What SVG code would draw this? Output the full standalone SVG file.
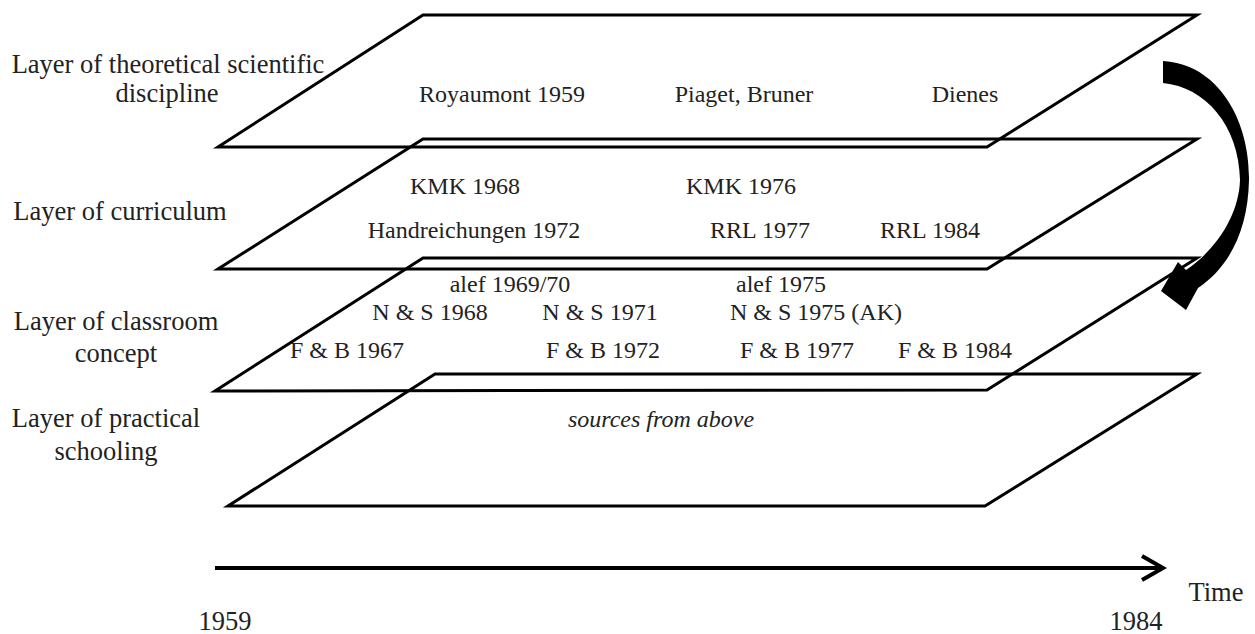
<svg xmlns="http://www.w3.org/2000/svg" width="1255" height="634" viewBox="0 0 1255 634">
<style>
.layer{fill:none;stroke:#000;stroke-width:3;stroke-linejoin:miter}
.lbl{font-family:"Liberation Serif","Times New Roman",serif;font-size:26.5px;fill:#222;text-anchor:middle}
.t{font-family:"Liberation Serif","Times New Roman",serif;font-size:24px;fill:#222;text-anchor:middle}
.it{font-style:italic}
.axis{fill:none;stroke:#000;stroke-width:4}
</style>
<rect width="1255" height="634" fill="#fff"/>
<g id="layer-theory">
<polygon class="layer" points="423,15 1197,15 987,147 218,147"/>
<text class="lbl" x="168" y="73">Layer of theoretical scientific</text>
<text class="lbl" x="167" y="102">discipline</text>
<text class="t" x="502" y="102">Royaumont 1959</text>
<text class="t" x="744" y="102">Piaget, Bruner</text>
<text class="t" x="965" y="102">Dienes</text>
</g>
<g id="layer-curriculum">
<polygon class="layer" points="423,139 1197,139 987,269 218,269"/>
<text class="lbl" x="120" y="220">Layer of curriculum</text>
<text class="t" x="465" y="194">KMK 1968</text>
<text class="t" x="741" y="194">KMK 1976</text>
<text class="t" x="474" y="238">Handreichungen 1972</text>
<text class="t" x="760" y="238">RRL 1977</text>
<text class="t" x="930" y="238">RRL 1984</text>
</g>
<g id="layer-classroom">
<polygon class="layer" points="423,258 1197,258 987,390 215,391"/>
<text class="lbl" x="116" y="330">Layer of classroom</text>
<text class="lbl" x="116" y="362">concept</text>
<text class="t" x="510" y="292">alef 1969/70</text>
<text class="t" x="781" y="292">alef 1975</text>
<text class="t" x="430" y="320">N &amp; S 1968</text>
<text class="t" x="600" y="320">N &amp; S 1971</text>
<text class="t" x="816" y="320">N &amp; S 1975 (AK)</text>
<text class="t" x="347" y="358">F &amp; B 1967</text>
<text class="t" x="603" y="358">F &amp; B 1972</text>
<text class="t" x="797" y="358">F &amp; B 1977</text>
<text class="t" x="955" y="358">F &amp; B 1984</text>
</g>
<g id="layer-practice">
<polygon class="layer" points="435,374 1197,374 985,506 228,506"/>
<text class="lbl" x="106" y="427">Layer of practical</text>
<text class="lbl" x="106" y="460">schooling</text>
<text class="t it" x="661" y="427">sources from above</text>
</g>
<g id="time-axis">
<text class="lbl" x="1216" y="601">Time</text>
<text class="lbl" x="225" y="630">1959</text>
<text class="lbl" x="1136" y="630">1984</text>
</g>
<g id="connectors">
<path d="M1163,61 C1218,64 1250,120 1249,180 C1248,232 1228,268 1198,288 L1186,310 L1161,291 L1178,262 L1186,270 C1216,250 1239,215 1240,180 C1239,125 1205,87 1163,83 Z" fill="#000"/>
<line class="axis" x1="215" y1="568" x2="1160" y2="568"/>
<path class="axis" d="M1142,556 L1163,568 L1142,580"/>
</g>
</svg>
